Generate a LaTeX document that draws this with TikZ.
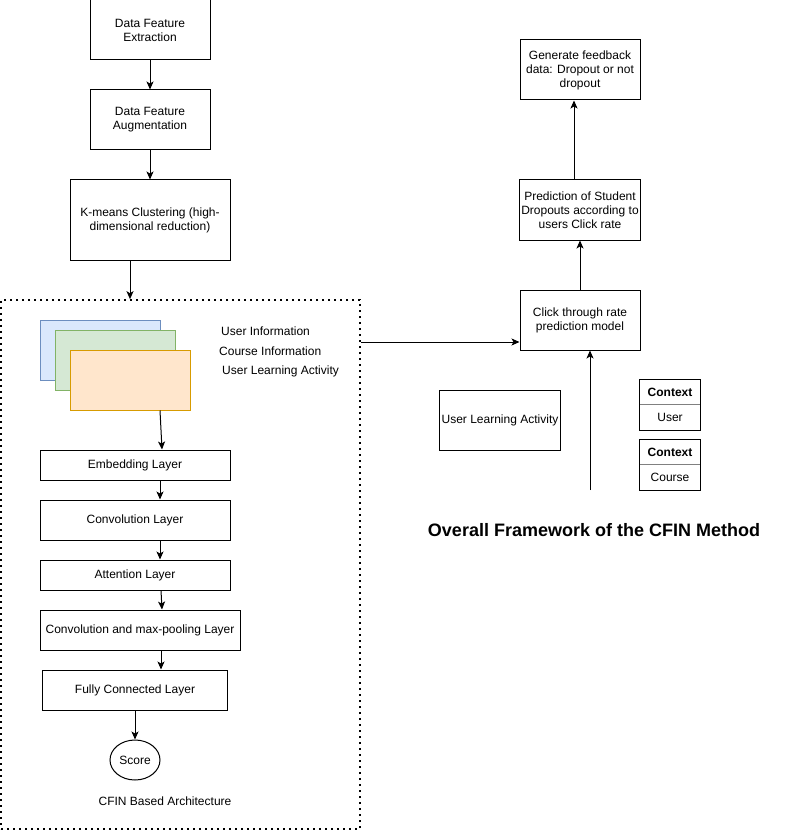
\documentclass[tikz,border=0pt]{standalone}
\usepackage{fontspec}
\setmainfont{Liberation Sans}
\usepackage{tikz}
\usetikzlibrary{shapes.geometric,positioning,arrows.meta}
\definecolor{sheetblue}{HTML}{DAE8FC}
\definecolor{sheetblueline}{HTML}{6C8EBF}
\definecolor{sheetgreen}{HTML}{D5E8D4}
\definecolor{sheetgreenline}{HTML}{82B366}
\definecolor{sheetorange}{HTML}{FFE6CC}
\definecolor{sheetorangeline}{HTML}{D79B00}
\tikzset{%
  box/.style={draw,shape=rectangle,align=center,line width=1pt,inner sep=2pt,font=\fontsize{12}{14}\selectfont},
  sheet/.style={draw,shape=rectangle,line width=1pt,minimum width=120pt,minimum height=60pt},
  txt/.style={inner sep=0pt,font=\fontsize{12}{14}\selectfont},
  flow/.style={-{Stealth[length=8pt,width=7pt,inset=2pt]},line width=1pt},
  frame/.style={draw,line width=1.6pt,dash pattern=on 1.6pt off 4.4pt},
  ctxcell/.style={shape=rectangle,minimum width=60pt,inner sep=0pt,font=\fontsize{12}{14}\selectfont}
}
\begin{document}
\begin{tikzpicture}[x=1pt,y=-1pt]
  \useasboundingbox (0,0) rectangle (802,834);
  \path
    (150,30) node (f_ext)[box,minimum width=120pt,minimum height=60pt]{Data Feature\\Extraction}
    (150,120) node (f_aug)[box,minimum width=120pt,minimum height=60pt]{Data Feature\\Augmentation}
    (150,220) node (kmeans)[box,minimum width=160pt,minimum height=80pt]{K-means Clustering (high-\\dimensional reduction)}
    (180.5,564.5) node (arch)[frame,minimum width=359pt,minimum height=529pt]{};
  \path
    (100,350) node (sh_1)[sheet,fill=sheetblue,draw=sheetblueline]{}
    (115,360) node (sh_2)[sheet,fill=sheetgreen,draw=sheetgreenline]{}
    (130,380) node (sh_3)[sheet,fill=sheetorange,draw=sheetorangeline]{}
    (221,331) node (t_user)[txt,anchor=west]{User Information}
    (219,351) node (t_course)[txt,anchor=west]{Course Information}
    (222,371) node (t_act)[txt,anchor=west]{User Learning Activity};
  \path
    (135,465) node (emb)[box,minimum width=190pt,minimum height=30pt]{Embedding Layer}
    (135,520) node (conv)[box,minimum width=190pt,minimum height=40pt]{Convolution Layer}
    (135,575) node (att)[box,minimum width=190pt,minimum height=30pt]{Attention Layer}
    (140,630) node (cmp)[box,minimum width=200pt,minimum height=40pt]{Convolution and max-pooling Layer}
    (135,690) node (fc)[box,minimum width=185pt,minimum height=40pt]{Fully Connected Layer}
    (135,760) node (score)[box,shape=ellipse,minimum width=50pt,minimum height=40pt,inner sep=0pt]{Score}
    (165,801) node (t_arch)[txt]{CFIN Based Architecture};
  \path
    (580,70) node (feed)[box,minimum width=120pt,minimum height=60pt]{Generate feedback\\data: Dropout or not\\dropout}
    (580,210) node (pred)[box,minimum width=120pt,minimum height=60pt]{Prediction of Student\\Dropouts according to\\users Click rate}
    (580,320) node (ctr)[box,minimum width=120pt,minimum height=60pt]{Click through rate\\prediction model}
    (500,420) node (ula)[box,minimum width=120pt,minimum height=60pt]{User Learning Activity}
    (670,392) node (ctx_u)[ctxcell,minimum height=24pt]{\bfseries Context}
    (670,417) node (ctx_u_b)[ctxcell,minimum height=26pt]{User}
    (670,452) node (ctx_c)[ctxcell,minimum height=24pt]{\bfseries Context}
    (670,477) node (ctx_c_b)[ctxcell,minimum height=26pt]{Course}
    (594,530) node (title)[inner sep=0pt,font=\fontsize{18}{21}\selectfont\bfseries]{Overall Framework of the CFIN Method};
  \draw[line width=1pt] (ctx_u.north west) rectangle (ctx_u_b.south east);
  \draw[gray] (ctx_u.south west) -- (ctx_u.south east);
  \draw[line width=1pt] (ctx_c.north west) rectangle (ctx_c_b.south east);
  \draw[gray] (ctx_c.south west) -- (ctx_c.south east);
  \coordinate (ctr_in) at ([yshift=-22pt]ctr.west);
  \coordinate (ctx_in) at (590,490);
  \draw[flow] (f_ext) -- (f_aug);
  \draw[flow] (f_aug) -- (kmeans);
  \draw[flow] ([xshift=-20pt]kmeans.south) -- ([xshift=-20pt]kmeans.south |- arch.north);
  \draw[flow] ([xshift=30pt]sh_3.south) -- ([xshift=27pt]emb.north);
  \draw[flow] ([xshift=25pt]emb.south) -- ([xshift=25pt]conv.north);
  \draw[flow] ([xshift=25pt]conv.south) -- ([xshift=25pt]att.north);
  \draw[flow] ([xshift=26pt]att.south) -- ([xshift=22pt]cmp.north);
  \draw[flow] ([xshift=21pt]cmp.south) -- ([xshift=26pt]fc.north);
  \draw[flow] (fc) -- (score);
  \draw[flow] (arch.east |- ctr_in) -- (ctr_in);
  \draw[flow] (ctr) -- (pred);
  \draw[flow] ([xshift=-6pt]pred.north) -- ([xshift=-6pt]feed.south);
  \draw[flow] (ctx_in) -- (ctx_in |- ctr.south);
\end{tikzpicture}
\end{document}
